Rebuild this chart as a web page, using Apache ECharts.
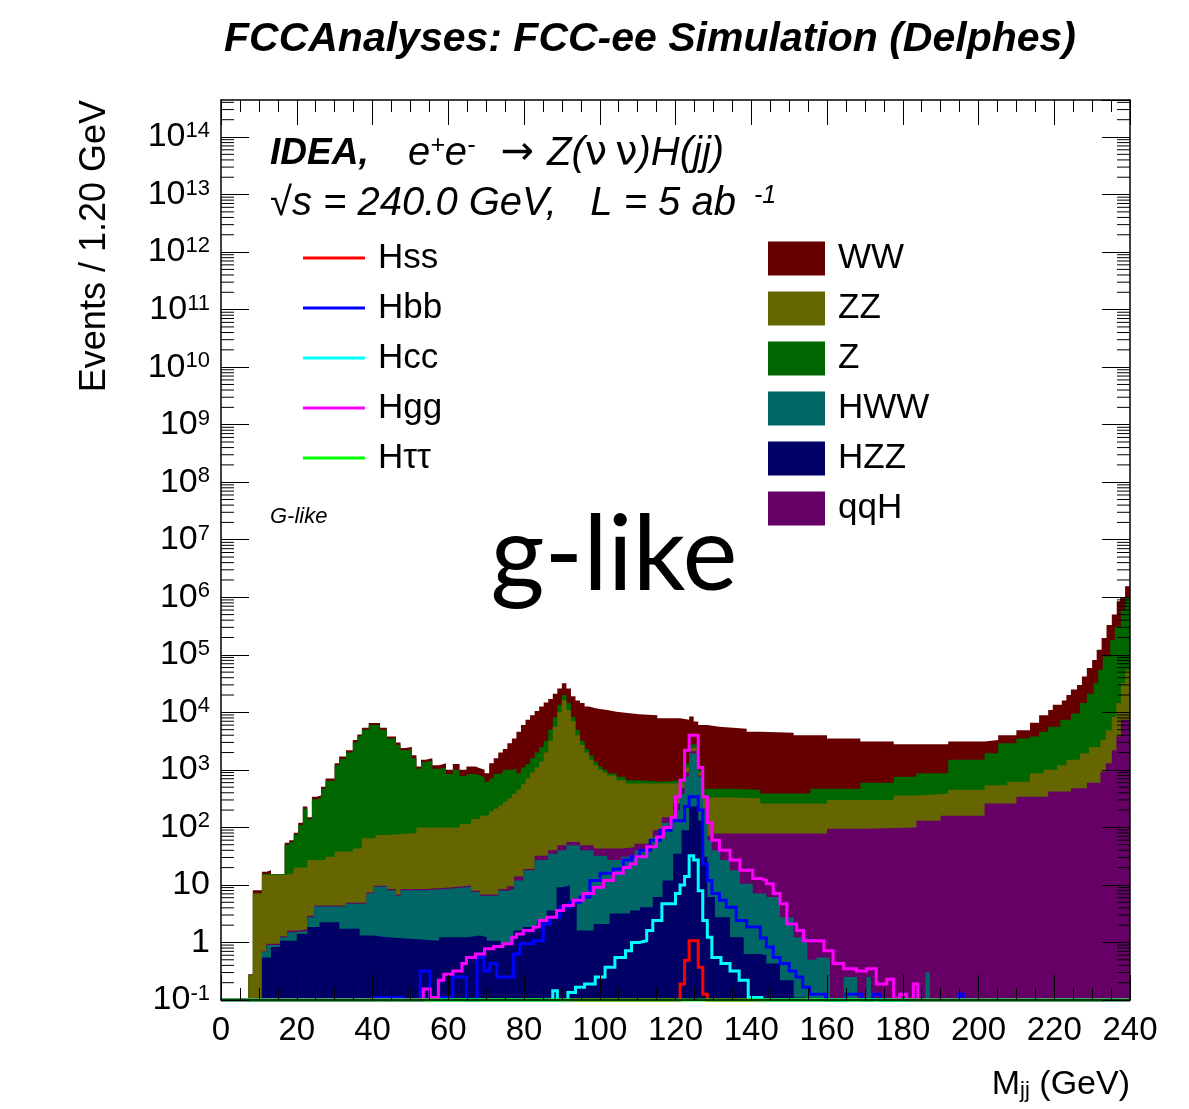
<!DOCTYPE html>
<html><head><meta charset="utf-8">
<script src="https://cdn.jsdelivr.net/npm/echarts@6/dist/echarts.min.js"></script>
<style>html,body{margin:0;padding:0;background:#fff}#c{width:1189px;height:1109px}</style>
</head><body><div id="c"></div>
<script>
// ---- x range / ticks ----
const xMin = 0, xMax = 240, xStep = 20;
const yMin = 0.1, yMax = 4.4e14;

// ---- stacked backgrounds: top edge of each layer of the stack, [M_jj left edge (GeV), events] ----
const wwTop = [[7.2,0.28],[8.4,8.1],[10.8,17],[12.0,18],[13.2,15],[16.8,54],[18.0,60],[19.2,81],[20.4,120],[21.6,230],[22.8,150],[24.0,340],[25.2,360],[26.4,510],[27.6,710],[30.0,1300],[31.2,1700],[33.0,2200],[34.8,3300],[36.0,4100],[37.2,5400],[39.0,6500],[42.0,5400],[43.8,3800],[46.2,3000],[47.4,2400],[48.6,2500],[50.4,1800],[51.6,1150],[52.8,1500],[54.0,1600],[55.8,1200],[57.6,1300],[59.4,1000],[61.2,1260],[63.0,1000],[64.8,1150],[67.2,1070],[68.4,1000],[69.6,870],[70.8,1300],[72.0,1600],[73.2,2000],[74.4,2300],[75.6,2900],[76.8,3500],[78.0,4600],[79.2,6000],[80.4,7400],[81.6,8900],[82.8,10500],[84.0,12600],[85.2,14800],[86.4,17000],[87.6,21000],[88.8,26000],[90.0,32000],[91.2,26000],[92.4,19000],[93.6,16000],[94.8,14500],[96.0,12600],[97.2,12000],[98.4,11500],[99.6,11000],[102.0,10200],[104.4,9800],[106.8,9300],[110.4,8900],[115.2,7900],[121.2,7400],[123.6,8500],[124.8,6900],[126.0,6000],[128.4,5600],[131.6,5200],[138.8,4600],[142.4,4400],[151.2,4000],[160.0,3500],[168.8,3100],[177.6,2800],[192.0,3100],[201.6,3300],[205.2,4000],[210.0,4900],[213.6,6600],[216.0,8900],[218.4,11000],[219.6,13500],[222.0,16000],[223.2,20000],[224.4,25000],[226.0,30000],[227.3,42000],[228.6,59000],[230.0,81000],[231.2,123000],[232.5,195000],[233.8,330000],[235.2,500000],[236.5,850000],[237.4,1000000],[238.7,1550000],[240,1550000]];
const zTop = [[7.2,0.27],[8.4,7.2],[10.8,15.5],[16.8,50],[18.0,55],[19.2,75],[20.4,110],[21.6,210],[22.8,140],[24.0,310],[25.2,330],[26.4,470],[27.6,650],[30.0,1200],[31.2,1550],[33.0,2000],[34.8,3000],[36.0,3800],[37.2,5000],[39.0,6000],[42.0,5000],[43.8,3500],[46.2,2700],[47.4,2200],[48.6,2250],[50.4,1600],[51.6,1050],[52.8,1350],[54.0,1450],[55.8,1050],[57.6,1100],[59.4,850],[61.2,1000],[63.0,780],[64.8,850],[67.2,800],[68.4,760],[69.6,620],[70.8,710],[72.0,850],[73.2,900],[74.4,1000],[76.8,1050],[78.0,870],[79.2,1100],[80.4,1260],[81.6,1600],[82.8,2000],[84.0,2500],[85.2,3200],[86.4,5000],[87.6,8300],[88.8,13500],[90.0,20000],[91.2,14500],[92.4,8300],[93.6,5000],[94.8,3200],[96.0,2300],[97.2,1800],[98.4,1400],[99.6,1150],[100.8,1000],[102.0,870],[104.4,760],[106.8,660],[110.4,620],[116.4,650],[120.0,700],[122.4,1300],[123.6,2800],[126.0,1000],[127.2,470],[135.0,450],[142.4,390],[155.6,470],[168.8,600],[177.6,760],[183.6,870],[192.0,1500],[201.6,1950],[205.2,2900],[210.0,3500],[213.6,3800],[216.0,4600],[218.4,5600],[221.6,7400],[224.4,9500],[226.8,14500],[228.6,21000],[230.4,32000],[231.6,55000],[232.8,93000],[234.8,180000],[236.0,310000],[237.6,600000],[238.8,980000],[240,980000]];
const zzTop = [[7.2,0.27],[8.4,7.1],[10.8,15],[16.8,16],[19.2,20],[22.8,27],[27.6,31],[30.0,38],[34.8,43],[37.2,65],[40.8,74],[43.8,80],[51.6,100],[63.0,115],[66.0,140],[68.4,160],[69.6,165],[70.8,190],[72.0,210],[73.2,240],[74.4,280],[75.6,320],[76.8,380],[78.0,450],[79.2,560],[80.4,710],[81.6,900],[82.8,1100],[84.0,1400],[85.2,2000],[86.4,3200],[87.6,5600],[88.8,10000],[90.0,16000],[91.2,11000],[92.4,7000],[93.6,4000],[94.8,2700],[96.0,2000],[97.2,1500],[98.4,1200],[99.6,1000],[100.8,900],[102.0,800],[104.4,660],[106.8,580],[121.2,620],[122.4,1100],[123.6,2400],[126.0,900],[127.2,330],[135.0,320],[142.4,260],[160.0,300],[177.6,360],[184.0,390],[192.0,450],[201.6,540],[207.6,620],[213.6,870],[217.2,1000],[220.8,1200],[223.2,1500],[226.8,1950],[229.2,2500],[232.2,3300],[233.6,4900],[235.2,8300],[236.4,14500],[237.6,32000],[238.8,55000],[240,55000]];
const qqhTop = [[10.8,0.7],[12.0,0.95],[15.6,1.28],[17.4,1.6],[20.0,1.7],[22.8,2.9],[24.6,4.4],[33.0,4.9],[38.4,7.4],[40.2,9.7],[43.8,8.5],[46.2,6.8],[47.4,8.5],[54.0,9.1],[61.2,9.8],[66.0,7.9],[68.4,6.8],[73.2,8.5],[75.6,9.5],[77.4,14],[79.8,19],[82.8,32],[86.4,40],[88.8,49],[91.2,56],[94.8,49],[98.4,43],[102.0,43],[105.6,45],[109.2,52],[114.0,89],[116.4,150],[119.4,260],[121.2,480],[122.4,900],[123.6,2100],[126.0,800],[127.2,210],[128.4,70],[129.6,78],[142.4,78],[160.0,95],[170.4,100],[183.6,130],[190.0,160],[201.6,260],[210.0,340],[218.4,420],[224.4,480],[228.6,600],[232.2,930],[233.6,1300],[235.2,2200],[236.4,3800],[237.6,7400],[240,7400]];
const hwwTop = [[10.8,0.68],[12.0,0.9],[15.6,1.23],[17.4,1.5],[20.0,1.6],[22.8,2.75],[24.6,4.2],[33.0,4.7],[38.4,7.1],[40.2,9.3],[43.8,8.1],[46.2,6.5],[47.4,8.1],[54.0,8.7],[61.2,9.3],[66.0,7.5],[68.4,6.5],[73.2,7.9],[75.6,8.5],[77.4,12],[79.8,18],[82.8,27],[86.4,35],[88.8,40],[91.2,49],[94.8,40],[98.4,32],[102.0,27],[105.6,31],[109.2,40],[114.0,68],[116.4,120],[119.4,200],[121.2,390],[122.4,760],[123.6,1950],[126.0,760],[127.2,200],[128.4,60],[129.6,40],[131.8,27],[134.4,18],[137.0,10.5],[140.4,7.1],[144.0,6.2],[147.6,2.75],[151.2,1.23],[154.8,0.5],[157.2,0.55],[160.8,0.05],[164.4,0.25],[168.0,0.05],[170.4,0.25],[171.6,0.05],[186.0,0.3],[187.2,0.05],[240,0.05]];
const hzzTop = [[10.8,0.55],[13.2,0.83],[15.6,1.07],[20.0,1.41],[22.8,1.86],[26.0,2.24],[31.2,1.74],[36.6,1.32],[40.2,1.23],[43.8,1.15],[50.8,1.07],[57.6,1.23],[64.8,1.32],[68.4,1.23],[70.2,1.07],[73.8,0.95],[77.2,1.62],[79.8,1.86],[83.4,2.4],[86.0,3.6],[88.6,9.1],[90.0,9.8],[92.1,4.7],[93.9,1.62],[98.4,2.1],[102.6,3.2],[108.0,3.6],[110.6,4.1],[114.0,6.2],[116.6,12],[119.4,35],[121.6,89],[123.6,230],[126.0,130],[127.2,31],[128.4,6.2],[130.4,2.75],[134.4,1.23],[138.0,0.63],[142.4,0.6],[144.0,0.43],[147.6,0.22],[151.2,0.11],[154.6,0.05],[240,0.05]];

// ---- signal histograms (unstacked lines), [M_jj left edge, events]; 0.1 = empty bins on the floor ----
const hssLine = [[0,0.1],[121.2,0.19],[122.4,0.49],[123.6,1.07],[126.0,0.37],[127.2,0.126],[128.4,0.1],[240,0.1]];
const hbbLine = [[0,0.1],[40.2,0.11],[43.8,0.1],[45.0,0.11],[48.0,0.1],[52.6,0.32],[55.2,0.11],[61.2,0.25],[64.8,0.1],[67.6,0.55],[69.4,0.32],[71.0,0.43],[72.8,0.25],[77.2,0.63],[78.9,0.95],[82.5,1.07],[85.1,2.1],[86.9,2.75],[89.5,4.1],[92.1,5.0],[94.8,6.2],[97.4,12],[100.1,16],[103.6,19],[106.2,27],[108.4,31],[110.6,40],[113.3,60],[115.9,89],[118.8,130],[122.4,230],[123.6,340],[126.0,200],[127.2,23],[128.4,12],[129.6,7.1],[131.6,5.4],[133.4,4.1],[136.0,2.4],[138.8,1.86],[142.4,1.2],[144.0,0.83],[145.8,0.55],[147.6,0.43],[150.0,0.32],[151.8,0.25],[153.6,0.166],[155.4,0.126],[159.6,0.1],[165.0,0.126],[169.2,0.1],[172.2,0.126],[174.0,0.1],[195.0,0.126],[196.2,0.1],[240,0.1]];
const hccLine = [[0,0.1],[87.6,0.145],[88.8,0.1],[91.6,0.135],[93.6,0.166],[96.0,0.19],[98.8,0.25],[101.4,0.37],[104.0,0.55],[106.8,0.72],[108.4,1.0],[110.4,1.07],[112.4,1.62],[114.0,2.4],[116.4,4.7],[120.0,7.1],[121.2,10],[122.4,14],[123.6,32],[124.8,27],[126.0,7.9],[127.2,2.4],[128.4,1.23],[129.6,0.55],[132.0,0.43],[134.4,0.32],[136.8,0.22],[139.2,0.11],[142.8,0.1],[240,0.1]];
const hggLine = [[0,0.1],[53.4,0.155],[55.2,0.11],[57.4,0.22],[58.8,0.28],[61.2,0.32],[63.6,0.43],[64.8,0.55],[67.2,0.63],[69.6,0.78],[72.0,0.85],[74.4,0.95],[76.8,1.23],[78.0,1.41],[79.8,1.62],[82.4,1.86],[84.0,2.4],[86.0,2.75],[88.6,3.6],[90.4,4.4],[93.0,5.4],[95.6,7.1],[98.4,9.1],[101.0,12],[103.6,16],[106.2,20],[108.0,23],[109.6,31],[112.4,46],[115.0,68],[116.8,100],[118.8,150],[120.0,340],[121.2,660],[122.4,2200],[123.6,4000],[126.0,1100],[127.2,340],[128.4,120],[129.6,60],[131.6,40],[134.4,27],[137.0,18],[140.4,13],[142.4,12],[144.0,10.5],[145.8,7.1],[147.6,4.7],[149.4,2.1],[152.0,1.62],[153.8,1.07],[159.2,0.72],[161.6,0.43],[164.4,0.35],[167.8,0.32],[170.4,0.35],[173.0,0.19],[175.8,0.23],[177.6,0.105],[179.2,0.126],[181.0,0.1],[182.8,0.19],[184.0,0.1],[240,0.1]];
const httLine = [[0,0.1],[240,0.1]];

const signalNames = ['Hss','Hbb','Hcc','Hgg','H\u03c4\u03c4'];
const backgroundLegend = ['WW','ZZ','Z','HWW','HZZ','qqH'];

const FONT = '"Liberation Sans", Arial, sans-serif';
const chart = echarts.init(document.getElementById('c'), null, {renderer:'canvas'});

function fillSeries(name, data, color){
  return {name, type:'line', data, step:'end', symbol:'none', showSymbol:false, color,
    itemStyle:{color}, lineStyle:{width:0, color}, areaStyle:{color, opacity:1, origin:'start'},
    z:2, silent:true, animation:false};
}
function lineSeries(name, data, color){
  return {name, type:'line', data, step:'end', symbol:'none', showSymbol:false, color,
    itemStyle:{color}, lineStyle:{width:3, color, join:'miter'}, z:3, clip:false, silent:true, animation:false};
}

// minor log ticks 2..9 per decade
const minorTicks = [];
for (let e = -1; e <= 14; e++) for (let k = 2; k <= 9; k++) { const v = k * Math.pow(10, e); if (v < yMax) minorTicks.push([xMin, v]); }

const yLabelRich = {
  b:{fontFamily:FONT, fontSize:34, lineHeight:34, color:'#000'},
  s:{fontFamily:FONT, fontSize:22, lineHeight:12, verticalAlign:'top', color:'#000'}
};
function yFmt(v){
  const l = Math.log10(v), e = Math.round(l);
  if (Math.abs(l - e) > 0.01) return '';
  if (e === 0) return '{b|1}';
  if (e === 1) return '{b|10}';
  return '{b|10}{s|' + e + '}';
}
const axisLineStyle = {color:'#000', width:1.5};
const latexRich = {
  i:{font:'italic 40px "Liberation Sans"', fill:'#000', lineHeight:40},
  a:{font:'40px "DejaVu Sans"', fill:'#000', lineHeight:40},
  g:{font:'40px "DejaVu Sans"', fill:'#000', lineHeight:40},
  p:{font:'italic 25px "Liberation Sans"', fill:'#000', lineHeight:18, verticalAlign:'top'}
};

const option = {
  backgroundColor:'#fff',
  animation:false,
  grid:{left:221, top:100, width:909, height:900, containLabel:false},
  xAxis:[
    {type:'value', min:xMin, max:xMax, interval:xStep, position:'bottom', z:5,
     axisLine:{show:true, onZero:false, lineStyle:axisLineStyle},
     axisTick:{show:true, inside:true, length:25, lineStyle:{color:'#000', width:1}},
     minorTick:{show:true, splitNumber:4, length:12, lineStyle:{color:'#000', width:1}},
     axisLabel:{color:'#000', fontFamily:FONT, fontSize:33, margin:14},
     splitLine:{show:false}},
    {type:'value', min:xMin, max:xMax, interval:xStep, position:'top', z:5,
     axisLine:{show:true, onZero:false, lineStyle:axisLineStyle},
     axisTick:{show:true, inside:true, length:25, lineStyle:{color:'#000', width:1}},
     minorTick:{show:true, splitNumber:4, length:12, lineStyle:{color:'#000', width:1}},
     axisLabel:{show:false}, splitLine:{show:false}}
  ],
  yAxis:[
    {type:'log', logBase:10, min:yMin, max:yMax, interval:1, position:'left', z:5,
     axisLine:{show:true, onZero:false, lineStyle:axisLineStyle},
     axisTick:{show:true, inside:true, length:28, lineStyle:{color:'#000', width:1}},
     axisLabel:{formatter:yFmt, rich:yLabelRich, margin:11, showMaxLabel:false, showMinLabel:true},
     splitLine:{show:false}},
    {type:'log', logBase:10, min:yMin, max:yMax, interval:1, position:'right', z:5,
     axisLine:{show:true, onZero:false, lineStyle:axisLineStyle},
     axisTick:{show:true, inside:true, length:28, lineStyle:{color:'#000', width:1}},
     axisLabel:{show:false}, splitLine:{show:false}}
  ],
  legend:[
    {data:signalNames, orient:'vertical', left:303, top:240, icon:'rect', itemWidth:62, itemHeight:3, itemGap:14,
     selectedMode:false, padding:0, textStyle:{fontFamily:FONT, fontSize:35, color:'#000', lineHeight:36, padding:[0,0,0,8]}},
    {data:backgroundLegend, orient:'vertical', left:768, top:241, icon:'rect', itemWidth:57, itemHeight:34, itemGap:15,
     selectedMode:false, padding:0, textStyle:{fontFamily:FONT, fontSize:35, color:'#000', lineHeight:34, padding:[0,0,0,8]}}
  ],
  series:[
    fillSeries('WW', wwTop, '#660000'),
    fillSeries('Z', zTop, '#006600'),
    fillSeries('ZZ', zzTop, '#666600'),
    fillSeries('qqH', qqhTop, '#660066'),
    fillSeries('HWW', hwwTop, '#006666'),
    fillSeries('HZZ', hzzTop, '#000066'),
    lineSeries('Hss', hssLine, '#ff0000'),
    lineSeries('Hbb', hbbLine, '#0000ff'),
    lineSeries('Hcc', hccLine, '#00ffff'),
    lineSeries('Hgg', hggLine, '#ff00ff'),
    lineSeries('H\u03c4\u03c4', httLine, '#00ff00'),
    {type:'custom', name:'minorTicks', data:minorTicks, encode:{x:0, y:1}, z:6, silent:true, clip:false,
     renderItem:(p, api) => {
       const v = api.value(1);
       const a = api.coord([xMin, v]), b = api.coord([xMax, v]);
       return {type:'group', children:[
         {type:'line', shape:{x1:a[0], y1:a[1], x2:a[0]+13, y2:a[1]}, style:{stroke:'#000', lineWidth:1}},
         {type:'line', shape:{x1:b[0]-13, y1:b[1], x2:b[0], y2:b[1]}, style:{stroke:'#000', lineWidth:1}}
       ]};
     }}
  ],
  graphic:[
    {type:'text', x:650, y:40, style:{text:'FCCAnalyses: FCC-ee Simulation (Delphes)', font:'italic bold 41px "Liberation Sans"', fill:'#000', align:'center', verticalAlign:'middle'}},
    {type:'text', x:270, y:154, style:{text:'IDEA,', font:'italic bold 37px "Liberation Sans"', fill:'#000', align:'left', verticalAlign:'middle'}},
    {type:'text', x:408, y:154, style:{text:'{i|e}{p|+}{i|e}{p|-}{a|  \u2192 }{i|Z(}{g|\u03bd\u2009\u03bd}{i|)H(jj)}', align:'left', verticalAlign:'middle', rich:latexRich}},
    {type:'text', x:270, y:204, style:{text:'{i|\u221as = 240.0 GeV,   L = 5 ab }{p| -1}', align:'left', verticalAlign:'middle', rich:latexRich}},
    {type:'text', x:270, y:517, style:{text:'G-like', font:'italic 22px "Liberation Sans"', fill:'#000', align:'left', verticalAlign:'middle'}},
    {type:'text', x:614, y:556, style:{text:'g-like', font:'104px Lato', fill:'#000', align:'center', verticalAlign:'middle'}},
    {type:'text', x:95, y:100, rotation:Math.PI/2, style:{text:'Events / 1.20 GeV', font:'36px "Liberation Sans"', fill:'#000', align:'right', verticalAlign:'middle'}},
    {type:'text', x:1130, y:1085, style:{text:'{m|M}{u|jj}{m| (GeV)}', align:'right', verticalAlign:'middle',
      rich:{m:{font:'34px "Liberation Sans"', fill:'#000', lineHeight:34}, u:{font:'22px "Liberation Sans"', fill:'#000', lineHeight:6, verticalAlign:'bottom'}}}}
  ]
};
chart.setOption(option);
</script></body></html>
